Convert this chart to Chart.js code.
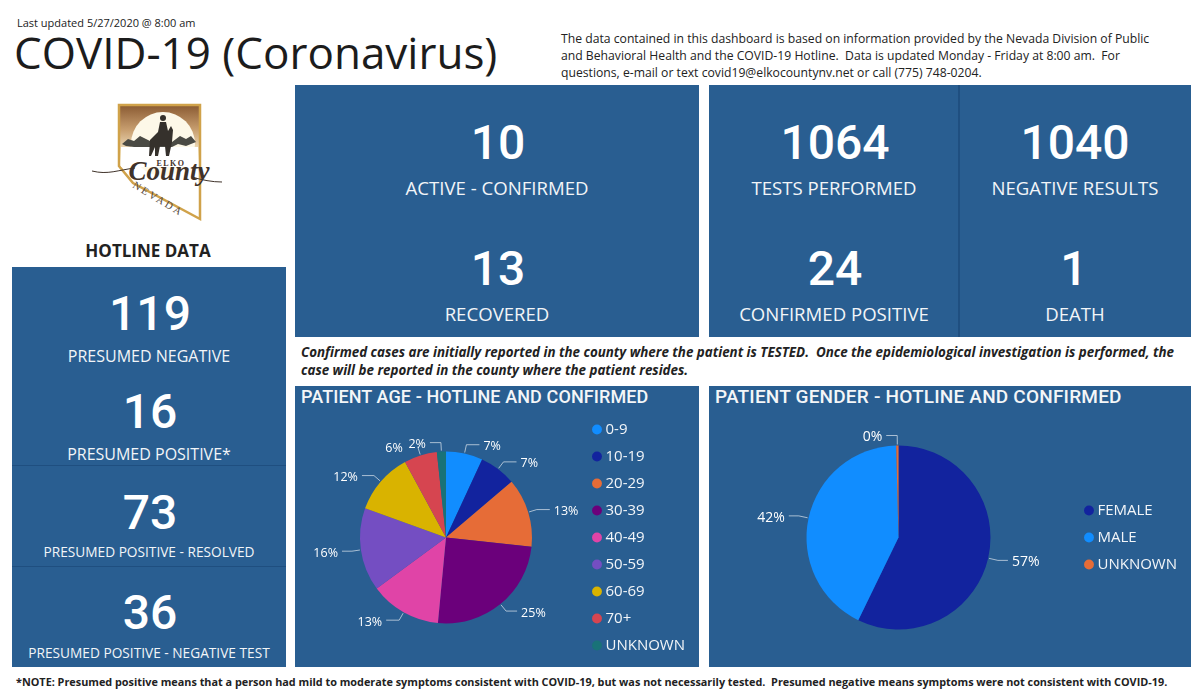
<!DOCTYPE html>
<html>
<head>
<meta charset="utf-8">
<title>COVID-19 (Coronavirus)</title>
<script src="https://cdn.jsdelivr.net/npm/chart.js@4"></script>
<style>
  html, body { margin: 0; padding: 0; background: #fff; }
  body { position: relative; width: 1200px; height: 694px; overflow: hidden; font-family: "Open Sans", sans-serif; color: #222; }
  .abs { position: absolute; white-space: nowrap; }
  .panel { position: absolute; background: #295e91; }
  .num { position: absolute; color: #fff; font-family: Roboto, sans-serif; font-weight: 500; font-size: 48px; line-height: 50px; text-align: center; transform: translateX(-50%); white-space: nowrap; }
  .lab { position: absolute; color: #f2f5f8; font-size: 18.6px; line-height: 22px; text-align: center; transform: translateX(-50%); white-space: nowrap; }
  .lab.sm { font-size: 13.7px; }
  .rule { position: absolute; background: #1f4f80; }
  .ptitle { position: absolute; color: #f4f6f8; font-family: Roboto, sans-serif; font-weight: 500; line-height: 22px; white-space: nowrap; }
  canvas { position: absolute; }
</style>
</head>
<body>

<div class="abs" style="left:17px;top:15px;font-size:11px;line-height:15px;">Last updated 5/27/2020 @ 8:00 am</div>
<div class="abs" style="left:14px;top:22px;font-size:44px;line-height:60px;color:#1c1c1c;">COVID-19 (Coronavirus)</div>
<div class="abs" style="left:561px;top:31px;font-size:12.19px;line-height:16.8px;white-space:pre;">The data contained in this dashboard is based on information provided by the Nevada Division of Public
and Behavioral Health and the COVID-19 Hotline.  Data is updated Monday - Friday at 8:00 am.  For
questions, e-mail or text covid19@elkocountynv.net or call (775) 748-0204.</div>

<!-- county logo -->
<svg class="abs" style="left:85px;top:98px;" width="145" height="135" viewBox="85 98 145 135">
  <defs>
    <linearGradient id="sky" x1="0" y1="0" x2="0" y2="1">
      <stop offset="0" stop-color="#8a5a32"/>
      <stop offset="0.22" stop-color="#c89f70"/>
      <stop offset="0.42" stop-color="#f5e7c8"/>
      <stop offset="0.5" stop-color="#ffffff"/>
    </linearGradient>
  </defs>
  <polygon points="119,105 200,105 200,219 133,183 119,166" fill="url(#sky)" stroke="#d0a24a" stroke-width="2.5"/>
  <circle cx="163" cy="144" r="32" fill="#fdf8e8"/>
  <rect x="121" y="147" width="77" height="20" fill="#fff"/>
  <path d="M122 144 L128 139 L134 141 L140 136 L150 141 L172 142 L180 136 L186 139 L191 136 L196 142 L186 146 L178 144 L172 147 L150 147 L134 147 L126 146 Z" fill="#4a4a44"/>
  <circle cx="163" cy="118" r="3" fill="#35312c"/>
  <path d="M150 140 L158 132 L160 122 L166 122 L168 131 L171 126 L173 130 L172 142 L169 156 L166 156 L165 146 L160 146 L158 156 L155 156 L155 147 L151 156 L149 156 Z" fill="#35312c"/>
  <path d="M92 171 C108 175 118 170 135 168 M192 177 C202 180 212 182 222 182" fill="none" stroke="#3f3229" stroke-width="1"/>
  <text x="171" y="166" font-family="Liberation Serif, serif" font-size="8" letter-spacing="1.5" font-weight="bold" text-anchor="middle" fill="#3f3229">ELKO</text>
  <text x="169" y="180" font-family="Liberation Serif, serif" font-style="italic" font-weight="bold" font-size="27" text-anchor="middle" fill="#3f3229">County</text>
  <text transform="translate(132 187) rotate(31)" font-family="Liberation Serif, serif" font-size="10.5" letter-spacing="2.4" fill="#55483c">NEVADA</text>
</svg>
<div class="abs" style="left:0;width:296px;top:240px;text-align:center;font-size:17px;line-height:21px;font-weight:700;">HOTLINE DATA</div>

<!-- hotline column -->
<div class="panel" style="left:12px;top:267px;width:274px;height:400px;"></div>
<div class="rule" style="left:12px;top:465px;width:274px;height:1px;"></div>
<div class="rule" style="left:12px;top:566px;width:274px;height:1px;"></div>
<div class="num" style="left:150px;top:289px;">119</div>
<div class="lab" style="left:149px;top:345px;font-size:16px;">PRESUMED NEGATIVE</div>
<div class="num" style="left:150px;top:387px;">16</div>
<div class="lab" style="left:149px;top:443px;font-size:16px;">PRESUMED POSITIVE*</div>
<div class="num" style="left:150px;top:488px;">73</div>
<div class="lab sm" style="left:149px;top:541px;">PRESUMED POSITIVE - RESOLVED</div>
<div class="num" style="left:150px;top:588px;">36</div>
<div class="lab sm" style="left:149px;top:642px;">PRESUMED POSITIVE - NEGATIVE TEST</div>

<!-- top tiles -->
<div class="panel" style="left:295px;top:85px;width:404px;height:252px;"></div>
<div class="panel" style="left:709px;top:85px;width:482px;height:252px;"></div>
<div class="rule" style="left:958px;top:85px;width:2px;height:252px;"></div>
<div class="num" style="left:498px;top:118px;">10</div>
<div class="lab" style="left:497px;top:177px;">ACTIVE - CONFIRMED</div>
<div class="num" style="left:498px;top:244px;">13</div>
<div class="lab" style="left:497px;top:303px;">RECOVERED</div>
<div class="num" style="left:835px;top:118px;">1064</div>
<div class="lab" style="left:834px;top:177px;">TESTS PERFORMED</div>
<div class="num" style="left:835px;top:244px;">24</div>
<div class="lab" style="left:834px;top:303px;">CONFIRMED POSITIVE</div>
<div class="num" style="left:1075px;top:118px;">1040</div>
<div class="lab" style="left:1075px;top:177px;">NEGATIVE RESULTS</div>
<div class="num" style="left:1074px;top:244px;">1</div>
<div class="lab" style="left:1075px;top:303px;">DEATH</div>

<div class="abs" style="left:301px;top:344px;font-size:13.36px;line-height:17.5px;font-weight:700;font-style:italic;white-space:pre;">Confirmed cases are initially reported in the county where the patient is TESTED.  Once the epidemiological investigation is performed, the
case will be reported in the county where the patient resides.</div>

<!-- pies -->
<div class="panel" style="left:295px;top:386px;width:404px;height:281px;"></div>
<div class="panel" style="left:709px;top:386px;width:482px;height:281px;"></div>
<div class="ptitle" style="left:301px;top:386px;font-size:18px;letter-spacing:0.1px;">PATIENT AGE - HOTLINE AND CONFIRMED</div>
<div class="ptitle" style="left:715px;top:386px;font-size:19px;letter-spacing:0.2px;">PATIENT GENDER - HOTLINE AND CONFIRMED</div>
<canvas id="ageChart" style="left:295px;top:408px;"></canvas>
<canvas id="genderChart" style="left:709px;top:408px;"></canvas>

<div class="abs" style="left:16px;top:674px;font-size:10.85px;line-height:16px;font-weight:700;white-space:pre;">*NOTE: Presumed positive means that a person had mild to moderate symptoms consistent with COVID-19, but was not necessarily tested.  Presumed negative means symptoms were not consistent with COVID-19.</div>

<script>
// Chart data
const ageLabels = ['0-9', '10-19', '20-29', '30-39', '40-49', '50-59', '60-69', '70+', 'UNKNOWN'];
const ageValues = [6.9, 6.9, 12.9, 24.8, 13.4, 15.6, 11.6, 6.2, 1.7];
const ageColors = ['#118dff', '#12239e', '#e66c37', '#6b007b', '#e044a7', '#744ec2', '#d9b300', '#d64550', '#197278'];

const genderLabels = ['FEMALE', 'MALE', 'UNKNOWN'];
const genderValues = [57.2, 42.4, 0.4];
const genderColors = ['#12239e', '#118dff', '#e66c37'];

// Draws the outside percent labels with their little elbow lines
const leaderLabels = {
    id: 'leaderLabels',
    afterDatasetsDraw(chart, args, opts) {
        const ctx = chart.ctx;
        ctx.save();
        ctx.font = opts.size + 'px "Open Sans", sans-serif';
        ctx.textBaseline = 'middle';
        chart.getDatasetMeta(0).data.forEach((arc, i) => {
            const p = arc.getProps(['x', 'y', 'startAngle', 'endAngle', 'outerRadius']);
            const mid = (p.startAngle + p.endAngle) / 2;
            const cos = Math.cos(mid), sin = Math.sin(mid);
            const side = cos >= 0 ? 1 : -1;
            const x1 = p.x + cos * (p.outerRadius + 1), y1 = p.y + sin * (p.outerRadius + 1);
            const x2 = p.x + cos * (p.outerRadius + opts.radial), y2 = p.y + sin * (p.outerRadius + opts.radial);
            const run = opts.runs[i];
            ctx.strokeStyle = 'rgba(255,255,255,0.6)';
            ctx.lineWidth = 1;
            ctx.beginPath();
            ctx.moveTo(x1, y1);
            ctx.lineTo(x2, y2);
            ctx.lineTo(x2 + side * run, y2);
            ctx.stroke();
            ctx.fillStyle = '#fff';
            ctx.textAlign = side > 0 ? 'left' : 'right';
            ctx.fillText(Math.round(chart.data.datasets[0].data[i]) + '%', x2 + side * (run + opts.gaps[i]), y2 + 2);
        });
        ctx.restore();
    }
};

function makePie(id, labels, values, colors, cfg) {
    const canvas = document.getElementById(id);
    canvas.width = cfg.width;
    canvas.height = cfg.height;
    canvas.style.width = cfg.width + 'px';
    canvas.style.height = cfg.height + 'px';
    return new Chart(canvas.getContext('2d'), {
        type: 'pie',
        data: {
            labels: labels,
            datasets: [{
                data: values,
                backgroundColor: colors,
                borderWidth: 0,
                radius: cfg.radius
            }]
        },
        options: {
            responsive: false,
            animation: false,
            layout: { padding: { left: cfg.padLeft, right: cfg.padRight } },
            plugins: {
                tooltip: { enabled: false },
                legend: {
                    position: 'right',
                    labels: {
                        color: '#f2f5f8',
                        font: { family: '"Open Sans", sans-serif', size: cfg.legendSize },
                        usePointStyle: true,
                        pointStyle: 'circle',
                        boxHeight: 7,
                        boxWidth: 2,
                        padding: cfg.legendPad
                    }
                },
                leaderLabels: { size: cfg.labelSize, radial: cfg.radial, runs: cfg.runs, gaps: cfg.gaps }
            }
        },
        plugins: [leaderLabels]
    });
}

makePie('ageChart', ageLabels, ageValues, ageColors, {
    width: 404, height: 259, radius: 86, padLeft: 13, padRight: 4,
    legendSize: 15, legendPad: 12, labelSize: 12.5, radial: 9,
    runs: [13, 13, 13, 11, 13, 10, 12, 0, 11],
    gaps: [4, 4, 4, 4, 4, 4, 4, 15, 4]
});

makePie('genderChart', genderLabels, genderValues, genderColors, {
    width: 482, height: 259, radius: 92, padLeft: 12, padRight: 4,
    legendSize: 15, legendPad: 12, labelSize: 14, radial: 10,
    runs: [10, 10, 11],
    gaps: [4, 4, 4]
});
</script>
</body>
</html>
